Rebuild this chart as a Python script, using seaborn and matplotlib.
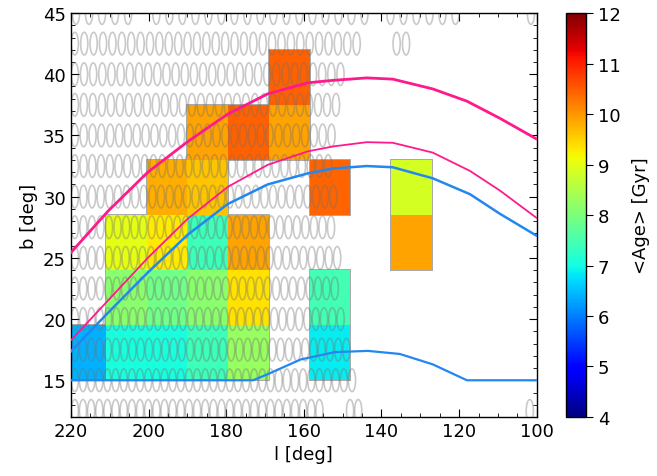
import matplotlib
matplotlib.use("Agg")
import matplotlib.pyplot as plt
import numpy as np
import pandas as pd
import seaborn as sns
from matplotlib.patches import Ellipse
from matplotlib.collections import PatchCollection
from matplotlib.colors import Normalize
from matplotlib.ticker import MultipleLocator

# age map: bin edges in l and b, filled cells (column, row, mean age)
l_edges = [221.5, 211.0, 200.5, 190.0, 179.5, 169.0, 158.5, 148.0, 137.5, 127.0]
b_edges = [15.0, 19.5, 24.0, 28.5, 33.0, 37.5, 42.0]
cell_col = [0, 1, 2, 3, 4, 6,
            1, 2, 3, 4, 6,
            1, 2, 3, 4, 8,
            2, 3, 6, 8,
            3, 4, 5,
            5]
cell_row = [0, 0, 0, 0, 0, 0,
            1, 1, 1, 1, 1,
            2, 2, 2, 2, 2,
            3, 3, 3, 3,
            4, 4, 4,
            5]
cell_age = [6.4, 7.05, 7.05, 7.4, 8.25, 6.85,
            8.15, 7.9, 8.15, 9.35, 7.45,
            9.0, 9.3, 7.4, 9.9, 9.9,
            9.8, 9.6, 10.42, 8.85,
            9.9, 10.44, 9.9,
            10.44]

# field footprints: row latitude, spacing in l, segments (first centre, count)
field_b = [12.5, 15.0, 17.5, 20.0, 22.5, 25.0, 27.5, 30.0, 32.5, 35.0, 37.5, 40.0, 42.5, 45.0]
field_step = [2.1, 2.1, 2.12, 2.14, 2.16, 2.18, 2.2, 2.22, 2.25, 2.28, 2.32, 2.36, 2.42, 3.35]
field_segments = [
    [(219.0, 31), (148.1, 2), (101.8, 1)],
    [(219.0, 35)],
    [(219.0, 34)],
    [(219.0, 33)],
    [(219.0, 32)],
    [(219.0, 32)],
    [(219.0, 31)],
    [(219.0, 31)],
    [(219.0, 30)],
    [(219.0, 30)],
    [(219.0, 30)],
    [(219.0, 30)],
    [(219.0, 31), (136.1, 2)],
    [(218.7, 5), (198.0, 17), (137.7, 6), (101.5, 1)],
]

# boundary curves
upper_l = [220.8, 210.5, 200.2, 189.9, 179.6, 169.3, 159.0, 152.5, 143.8, 137.1, 126.8, 118.0, 109.5, 100.0]
upper_b = [25.15, 28.8, 32.0, 34.5, 36.75, 38.4, 39.3, 39.5, 39.7, 39.6, 38.8, 37.8, 36.4, 34.7]
mid_l = [220.8, 210.5, 200.2, 189.9, 179.6, 169.3, 159.0, 152.5, 143.8, 137.1, 126.8, 117.2, 109.5, 100.0]
mid_b = [18.0, 21.5, 25.0, 28.2, 30.8, 32.6, 33.7, 34.1, 34.45, 34.4, 33.6, 32.1, 30.5, 28.25]
blue_l = [220.8, 210.5, 200.2, 189.9, 179.6, 169.3, 159.0, 152.5, 143.8, 137.1, 126.8, 117.2, 109.5, 100.0]
blue_b = [17.1, 20.5, 23.8, 26.9, 29.4, 31.0, 31.9, 32.3, 32.5, 32.4, 31.5, 30.2, 28.6, 26.8]
low_l = [220.0, 173.1, 169.3, 160.8, 152.0, 143.5, 135.3, 126.8, 118.0, 100.0]
low_b = [15.0, 15.0, 15.5, 16.7, 17.3, 17.4, 17.15, 16.3, 15.0, 15.0]

sns.set_style("ticks")
plt.rcParams.update({
    "font.family": ["DejaVu Sans"],
    "font.size": 13,
    "text.color": "black", "axes.labelcolor": "black", "axes.edgecolor": "black",
    "xtick.color": "black", "ytick.color": "black",
    "xtick.direction": "in", "ytick.direction": "in",
    "xtick.top": True, "ytick.right": True,
    "xtick.major.size": 6, "ytick.major.size": 6,
    "xtick.minor.size": 3, "ytick.minor.size": 3,
    "xtick.labelsize": 13, "ytick.labelsize": 13,
    "axes.linewidth": 1.0,
})

cmap = plt.get_cmap("jet")
norm = Normalize(vmin=4, vmax=12)

fig = plt.figure(figsize=(6.57, 4.77), dpi=100)
ax = fig.add_axes([0.108, 0.1237, 0.709, 0.8469])
cax = fig.add_axes([0.8615, 0.1237, 0.0304, 0.8469])

cells = pd.DataFrame({"col": cell_col, "row": cell_row, "age": cell_age})
x0 = [l_edges[c] for c in cells.col]
w = [l_edges[c + 1] - l_edges[c] for c in cells.col]
y0 = [b_edges[r] for r in cells.row]
h = [b_edges[r + 1] - b_edges[r] for r in cells.row]
# grey rim first, faces on top so only the outer border stays visible
ax.bar(x0, h, width=w, bottom=y0, align="edge", facecolor="none",
       edgecolor="#a8a8a8", linewidth=1.4, zorder=0.9)
ax.bar(x0, h, width=w, bottom=y0, align="edge",
       color=cmap(norm(cells.age.values)), edgecolor="none", linewidth=0, zorder=1)

ells = []
for b, step, segs in zip(field_b, field_step, field_segments):
    for first, n in segs:
        for k in range(n):
            ells.append(Ellipse((first - k * step, b), 1.85, 1.85))
ax.add_collection(PatchCollection(ells, facecolor="none",
                                  edgecolor=(0.45, 0.45, 0.45, 0.38), linewidth=1.2, zorder=2))

sns.lineplot(x=upper_l, y=upper_b, ax=ax, color="#ff1a8c", lw=2.0, sort=False, zorder=4)
sns.lineplot(x=mid_l, y=mid_b, ax=ax, color="#ff1a8c", lw=1.3, sort=False, zorder=4)
sns.lineplot(x=blue_l, y=blue_b, ax=ax, color="#2288f0", lw=1.8, sort=False, zorder=3)
sns.lineplot(x=low_l, y=low_b, ax=ax, color="#2288f0", lw=1.6, sort=False, zorder=3)

ax.set_xlim(220, 100)
ax.set_ylim(12, 45)
ax.xaxis.set_major_locator(MultipleLocator(20))
ax.xaxis.set_minor_locator(MultipleLocator(5))
ax.yaxis.set_major_locator(MultipleLocator(5))
ax.yaxis.set_minor_locator(MultipleLocator(1))
ax.tick_params(which="both", top=True, right=True, direction="in")
ax.set_xlabel("l [deg]", fontsize=13)
ax.set_ylabel("b [deg]", fontsize=13)

sm = plt.cm.ScalarMappable(norm=norm, cmap=cmap)
cb = fig.colorbar(sm, cax=cax)
cb.set_ticks(range(4, 13))
cb.outline.set_edgecolor("black")
cb.ax.tick_params(direction="out", length=5, labelsize=13, right=True, left=False, colors="black")
cb.set_label("<Age> [Gyr]", fontsize=13, labelpad=8)

fig.savefig("out.png", dpi=100)
